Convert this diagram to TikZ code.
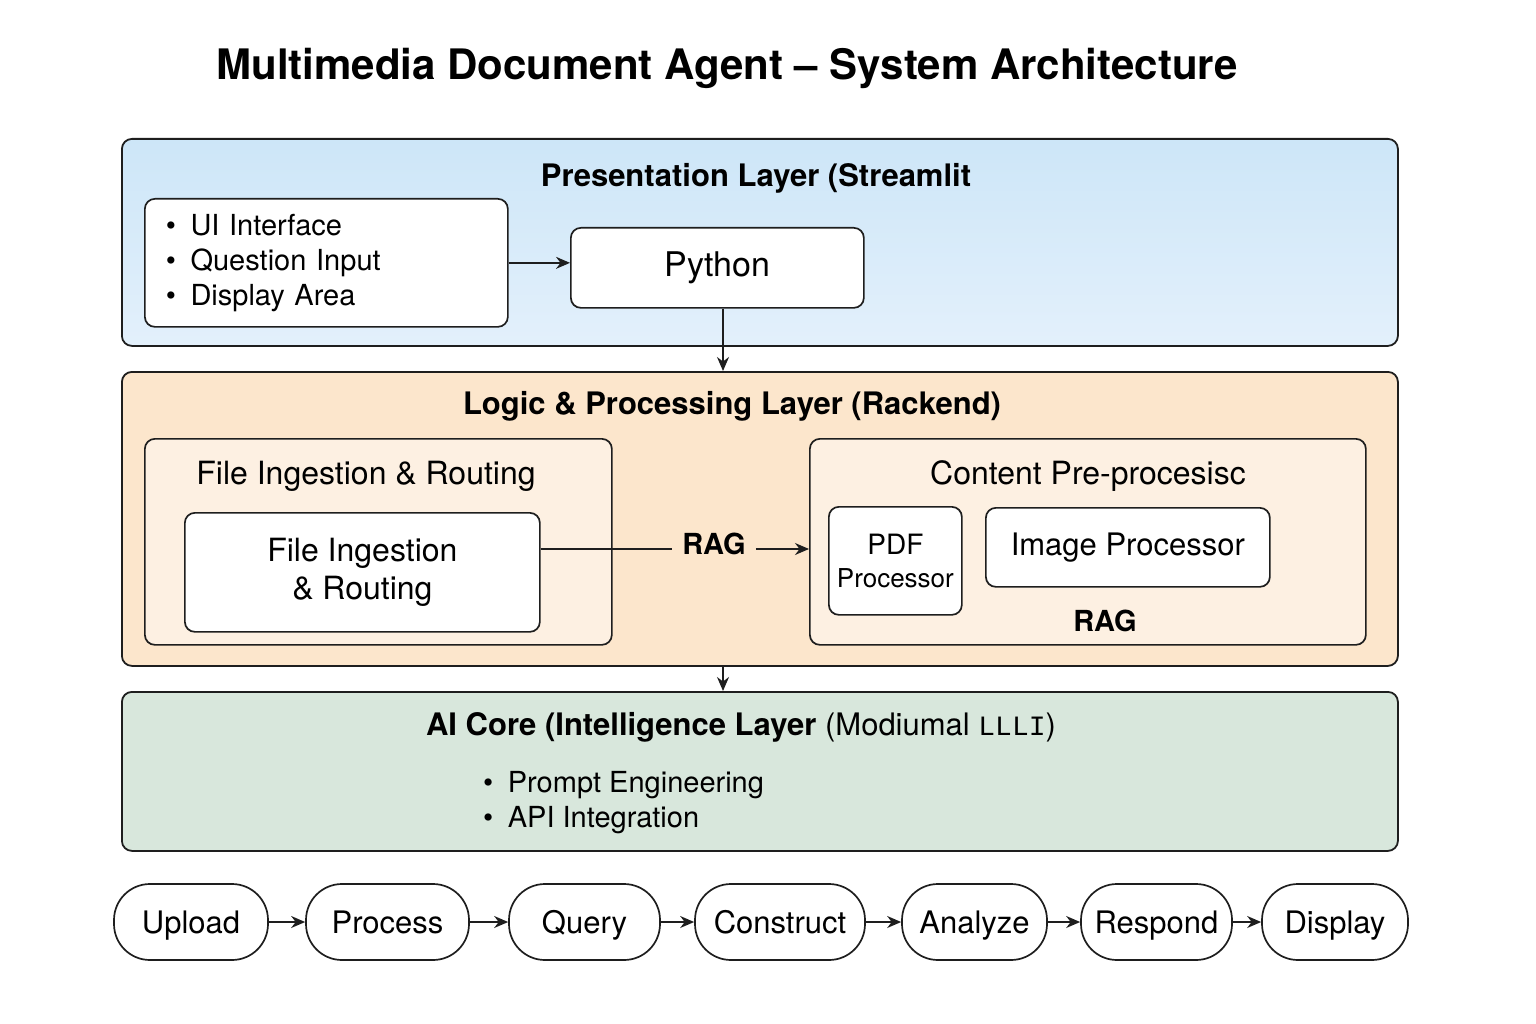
\documentclass[tikz,border=0pt]{standalone}
\usepackage{fontspec}
\setmainfont{TeX Gyre Heros}
\setmonofont{Liberation Mono}
\usetikzlibrary{arrows.meta,positioning}

\definecolor{presblue}{HTML}{CDE6F8}
\definecolor{presbluelt}{HTML}{E3F0FB}
\definecolor{logicpeach}{HTML}{FCE6CC}
\definecolor{subpeach}{HTML}{FDF0E2}
\definecolor{coregreen}{HTML}{D8E7DC}
\definecolor{linegray}{HTML}{1E1E1E}

\newcommand{\sizept}[2]{\fontsize{#1}{#2}\selectfont}

\tikzset{
  layer/.style={draw=linegray, line width=1.8pt, rounded corners=10pt, anchor=north west, inner sep=0pt},
  subbox/.style={layer, line width=1.7pt, fill=subpeach},
  card/.style={draw=linegray, line width=1.7pt, rounded corners=10pt, fill=white, inner sep=0pt, anchor=north west},
  ltitle/.style={font=\bfseries\sizept{31}{37}, anchor=base, inner sep=0pt},
  stitle/.style={font=\sizept{32}{38}, anchor=base, inner sep=0pt},
  ragtxt/.style={font=\bfseries\sizept{29}{35}, anchor=base, inner sep=10pt},
  pill/.style={draw=linegray, line width=1.7pt, rounded corners=36pt, fill=white, minimum height=76pt,
    inner sep=0pt, text height=22pt, text depth=0pt, font=\sizept{31}{37}},
  link/.style={line width=1.5pt, draw=linegray},
  flow/.style={link, -{Stealth[length=14pt,width=12pt]}},
}

\begin{document}
\begin{tikzpicture}[x=1pt,y=-1pt]
  \useasboundingbox (0,0) rectangle (1536,1024);

  % titre
  \node[anchor=base, inner sep=0pt, font=\bfseries\sizept{42}{50}] (title) at (727,80)
    {Multimedia Document Agent – System Architecture};

  % couche presentation
  \node[layer, top color=presblue, bottom color=presbluelt, minimum width=1276pt, minimum height=207pt] (pres) at (121,138) {};
  \node[ltitle] (prestitle) at (756,187) {Presentation Layer (Streamlit};
  \node[card, minimum width=363pt, minimum height=128pt, text width=321pt, align=left,
    font=\sizept{29}{35}] (uilist) at (144,198)
    {\textbullet\enspace UI Interface\\ \textbullet\enspace Question Input\\ \textbullet\enspace Display Area};
  \node[card, minimum width=293pt, minimum height=80pt, font=\sizept{34}{40}] (python) at (570,227) {Python};

  % couche logique
  \node[layer, fill=logicpeach, minimum width=1276pt, minimum height=294pt] (logic) at (121,371) {};
  \node[ltitle] (logictitle) at (732,414) {Logic \& Processing Layer (Rackend)};
  \node[subbox, minimum width=467pt, minimum height=206pt] (fiouter) at (144,438) {};
  \node[stitle] (fititle) at (366,484) {File Ingestion \& Routing};
  \node[card, minimum width=355pt, minimum height=119pt, align=center, font=\sizept{32}{38}] (fiinner) at (184,512)
    {File Ingestion\\\& Routing};
  \node[subbox, minimum width=556pt, minimum height=206pt] (cpouter) at (809,438) {};
  \node[stitle] (cptitle) at (1088,484) {Content Pre-procesisc};
  \node[card, minimum width=133pt, minimum height=108pt, align=center, font=\sizept{26}{33}] (pdf) at (828,506)
    {{\sizept{28}{33}PDF}\\Processor};
  \node[card, minimum width=284pt, minimum height=79pt, font=\sizept{31}{37}] (imgproc) at (985,507) {Image Processor};
  \node[ragtxt] (rag) at (714,554) {RAG};
  \node[ragtxt, inner sep=0pt] (ragb) at (1105,631) {RAG};

  % couche IA
  \node[layer, fill=coregreen, minimum width=1276pt, minimum height=159pt] (core) at (121,691) {};
  \node[ltitle] (coretitle) at (741,735)
    {AI Core (Intelligence Layer \textmd{(Modiumal {\ttfamily\sizept{28}{34}LLLI})}};
  \node[anchor=west, inner sep=0pt, align=left, font=\sizept{29}{35}] (corelist) at (483,803)
    {\textbullet\enspace Prompt Engineering\\ \textbullet\enspace API Integration};

  % liaisons
  \coordinate (spine) at (723,0);
  \coordinate (ragline) at (0,549);
  \draw[flow] (uilist.east) -- (uilist.east -| python.west);
  \draw[flow] (python.south -| spine) -- (logic.north -| spine);
  \draw[link] (fiinner.east |- ragline) -- (rag.west |- ragline);
  \draw[flow] (rag.east |- ragline) -- (cpouter.west |- ragline);
  \draw[flow] (logic.south -| spine) -- (core.north -| spine);

  % flux du bas
  \foreach \name/\lbl/\cx/\w in {upload/Upload/191/154, process/Process/387.5/163, query/Query/584.5/151,
      construct/Construct/780/170, analyze/Analyze/974.5/145, respond/Respond/1156.5/151, display/Display/1335/146}{
    \node[pill, minimum width=\w pt] (\name) at (\cx,922) {\lbl};
  }
  \foreach \a/\b in {upload/process, process/query, query/construct, construct/analyze,
      analyze/respond, respond/display}{
    \draw[flow] (\a.east) -- (\b.west);
  }
\end{tikzpicture}
\end{document}
